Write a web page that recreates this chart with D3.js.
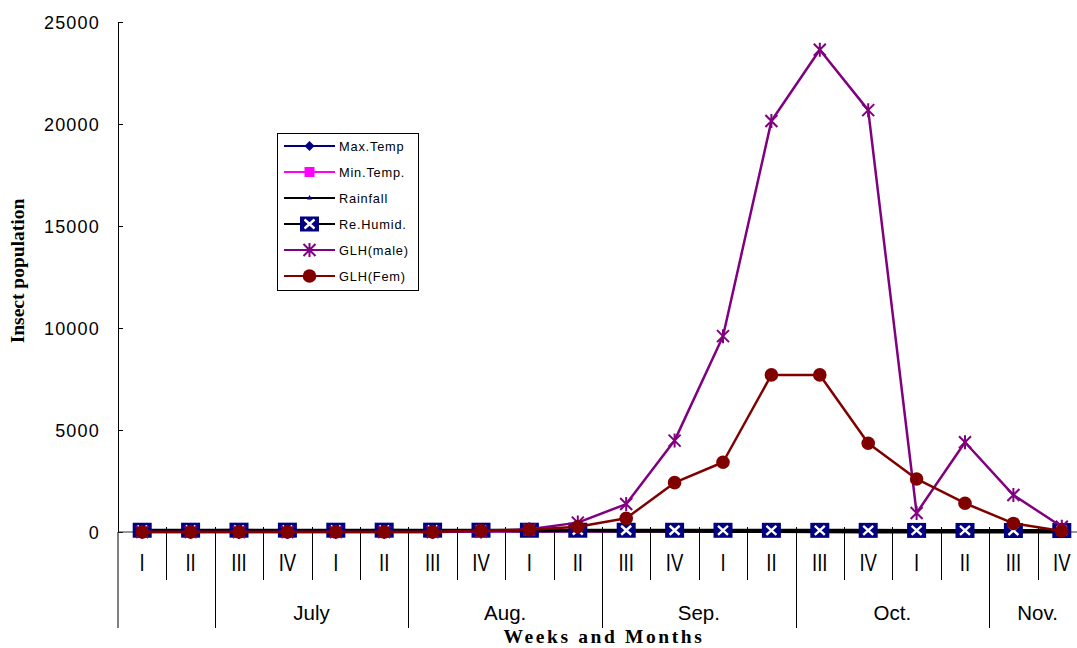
<!DOCTYPE html>
<html>
<head>
<meta charset="utf-8">
<script src="https://cdn.jsdelivr.net/npm/d3@7/dist/d3.min.js"></script>
<style>
  html, body { margin: 0; padding: 0; background: #fff; }
  svg { display: block; }
</style>
</head>
<body>
<svg id="chart" width="1077" height="648"></svg>
<script>
// ---------- DATA ----------
const weeks = ["I","II","III","IV","I","II","III","IV","I","II","III","IV","I","II","III","IV","I","II","III","IV"];
const monthLabels = ["", "July", "Aug.", "Sep.", "Oct.", "Nov."];
const monthSpans = [2, 4, 4, 4, 4, 2];
const yTicks = [0, 5000, 10000, 15000, 20000, 25000];

const maxTemp = [33.5, 32.8, 32.0, 31.5, 32.2, 31.8, 32.5, 32.0, 31.6, 32.3, 32.0, 31.4, 31.8, 31.2, 30.8, 30.5, 30.2, 29.6, 28.8, 28.0];
const minTemp = [26.5, 26.2, 25.8, 25.9, 25.6, 25.4, 25.5, 25.1, 24.8, 24.6, 24.2, 23.8, 23.5, 22.9, 22.1, 21.5, 20.4, 18.9, 17.6, 16.2];
const rainfall = [45, 60, 80, 72, 55, 90, 65, 70, 48, 58, 40, 35, 30, 20, 12, 5, 0, 0, 0, 0];
const reHumid = [86, 88, 89, 90, 88, 89, 90, 88, 87, 88, 86, 85, 84, 83, 82, 80, 78, 76, 74, 72];
const glhMale = [0, 0, 0, 0, 0, 0, 0, 20, 130, 460, 1370, 4480, 9600, 20150, 23640, 20680, 930, 4400, 1810, 260];
const glhFem = [0, 0, 0, 0, 0, 0, 0, 70, 110, 260, 670, 2420, 3420, 7700, 7700, 4350, 2600, 1410, 420, 50];

const seriesNames = ["Max.Temp", "Min.Temp.", "Rainfall", "Re.Humid.", "GLH(male)", "GLH(Fem)"];
const seriesData = [maxTemp, minTemp, rainfall, reHumid, glhMale, glhFem];

// ---------- STYLE ----------
const styles = [
  { line: "#000080", marker: "diamond", fill: "#000080", lw: 2 },
  { line: "#FF00FF", marker: "square", fill: "#FF00FF", lw: 2 },
  { line: "#000000", marker: "triangle", fill: "#000080", lw: 3 },
  { line: "#000000", marker: "xsquare", fill: "#000080", lw: 3 },
  { line: "#800080", marker: "star", fill: "#800080", lw: 2.5 },
  { line: "#800000", marker: "circle", fill: "#800000", lw: 2.5 }
];

const svg = d3.select("#chart");
const plotLeft = 118, bandEnd = 1086, plotTop = 22, base = 532;

const x = d3.scaleBand().domain(d3.range(weeks.length)).range([plotLeft, bandEnd]).paddingInner(0).paddingOuter(0);
const cx = i => x(i) + x.bandwidth() / 2;
const y = d3.scaleLinear().domain([0, 25000]).range([base, plotTop]);

svg.append("defs").append("clipPath").attr("id", "clip")
  .append("rect").attr("x", 0).attr("y", 0).attr("width", 1077).attr("height", 648);

// ---------- AXES ----------
const yAxis = d3.axisLeft(y).tickValues(yTicks).tickSize(-5).tickPadding(18).tickSizeOuter(0)
  .tickFormat(d3.format("d"));
const gy = svg.append("g").attr("transform", `translate(${plotLeft},0)`).call(yAxis);
gy.select(".domain").attr("stroke", "#000").attr("stroke-width", 1);
gy.selectAll(".tick line").attr("stroke", "#000");
gy.selectAll(".tick text")
  .attr("font-family", "Arial, 'Liberation Sans', sans-serif")
  .attr("font-size", 18).attr("letter-spacing", 1.2).attr("fill", "#000")
  .attr("dy", "0.36em");

svg.append("line").attr("x1", plotLeft).attr("x2", plotLeft).attr("y1", base).attr("y2", 628)
  .attr("stroke", "#000").attr("stroke-width", 1);

svg.append("line").attr("x1", plotLeft).attr("x2", 1077).attr("y1", y(0)).attr("y2", y(0))
  .attr("stroke", "#333").attr("stroke-width", 1);

const monthBounds = [0];
monthSpans.forEach((s, i) => monthBounds.push(monthBounds[i] + s));
for (let k = 1; k < weeks.length; k++) {
  const bx = Math.round(x(k)) + 0.5;
  const isMonth = monthBounds.includes(k);
  svg.append("line").attr("x1", bx).attr("x2", bx)
    .attr("y1", base - 5).attr("y2", isMonth ? 628 : 580)
    .attr("stroke", "#000").attr("stroke-width", 1);
}

svg.append("g").selectAll("text").data(weeks).join("text")
  .attr("transform", (d, i) => `translate(${cx(i)},571) scale(0.95,1.2)`)
  .attr("text-anchor", "middle")
  .attr("font-family", "Arial, 'Liberation Sans', sans-serif")
  .attr("font-size", 19.5).attr("fill", "#000")
  .text(d => d);

svg.append("g").selectAll("text").data(monthLabels).join("text")
  .attr("x", (d, i) => (x(monthBounds[i]) + (monthBounds[i + 1] < weeks.length ? x(monthBounds[i + 1]) : bandEnd)) / 2)
  .attr("y", 620)
  .attr("text-anchor", "middle")
  .attr("font-family", "Arial, 'Liberation Sans', sans-serif")
  .attr("font-size", 20.5).attr("fill", "#000")
  .text(d => d);

svg.append("text").attr("x", 604).attr("y", 643).attr("text-anchor", "middle")
  .attr("font-family", "'Times New Roman', 'Liberation Serif', serif")
  .attr("font-weight", "bold").attr("font-size", 19.5).attr("letter-spacing", 2.6)
  .text("Weeks and Months");

svg.append("text").attr("transform", "translate(24,271) rotate(-90)").attr("text-anchor", "middle")
  .attr("font-family", "'Times New Roman', 'Liberation Serif', serif")
  .attr("font-weight", "bold").attr("font-size", 19.5)
  .text("Insect population");

// ---------- MARKERS ----------
function drawMarker(g, type, st, px, py) {
  if (type === "diamond") {
    g.append("path").attr("d", `M${px},${py - 5}L${px + 5},${py}L${px},${py + 5}L${px - 5},${py}Z`)
      .attr("fill", st.fill);
  } else if (type === "square") {
    g.append("rect").attr("x", px - 5).attr("y", py - 5).attr("width", 10).attr("height", 10)
      .attr("fill", st.fill);
  } else if (type === "triangle") {
    g.append("path").attr("d", `M${px},${py - 3}L${px + 2.5},${py + 1.5}L${px - 2.5},${py + 1.5}Z`)
      .attr("fill", st.fill);
  } else if (type === "xsquare") {
    g.append("rect").attr("x", px - 9.5).attr("y", py - 7.5).attr("width", 19).attr("height", 15)
      .attr("fill", st.fill);
    g.append("path").attr("d", `M${px - 5},${py - 4.5}L${px + 5},${py + 4.5}M${px + 5},${py - 4.5}L${px - 5},${py + 4.5}`)
      .attr("stroke", "#fff").attr("stroke-width", 2.4).attr("fill", "none");
  } else if (type === "star") {
    g.append("path").attr("d", `M${px - 6},${py - 6}L${px + 6},${py + 6}M${px + 6},${py - 6}L${px - 6},${py + 6}M${px},${py - 7}L${px},${py + 7}`)
      .attr("stroke", st.fill).attr("stroke-width", 2).attr("fill", "none");
  } else if (type === "circle") {
    g.append("circle").attr("cx", px).attr("cy", py).attr("r", 6.8).attr("fill", st.fill);
  }
}

// ---------- SERIES ----------
const plot = svg.append("g").attr("clip-path", "url(#clip)");
const line = d3.line().x((d, i) => cx(i)).y(d => y(d));
seriesData.forEach((vals, si) => {
  const st = styles[si];
  const g = plot.append("g");
  g.append("path").datum(vals).attr("d", line)
    .attr("fill", "none").attr("stroke", st.line).attr("stroke-width", st.lw)
    .attr("stroke-linejoin", "round");
  vals.forEach((v, i) => drawMarker(g, st.marker, st, cx(i), y(v)));
});

// ---------- LEGEND ----------
const lg = svg.append("g");
lg.append("rect").attr("x", 277.5).attr("y", 133.5).attr("width", 141).attr("height", 157)
  .attr("fill", "#fff").attr("stroke", "#000").attr("stroke-width", 1);
const rowY = [146, 172, 198, 224, 250, 276];
seriesNames.forEach((name, si) => {
  const st = styles[si];
  const ry = rowY[si];
  lg.append("line").attr("x1", 284).attr("x2", 335).attr("y1", ry).attr("y2", ry)
    .attr("stroke", st.line).attr("stroke-width", 2);
  drawMarker(lg, st.marker, st, 309.5, ry);
  lg.append("text").attr("x", 339).attr("y", ry).attr("dy", "0.36em")
    .attr("font-family", "Arial, 'Liberation Sans', sans-serif")
    .attr("font-size", 12.8).attr("letter-spacing", 0.8).attr("fill", "#000")
    .text(name);
});
</script>
</body>
</html>
